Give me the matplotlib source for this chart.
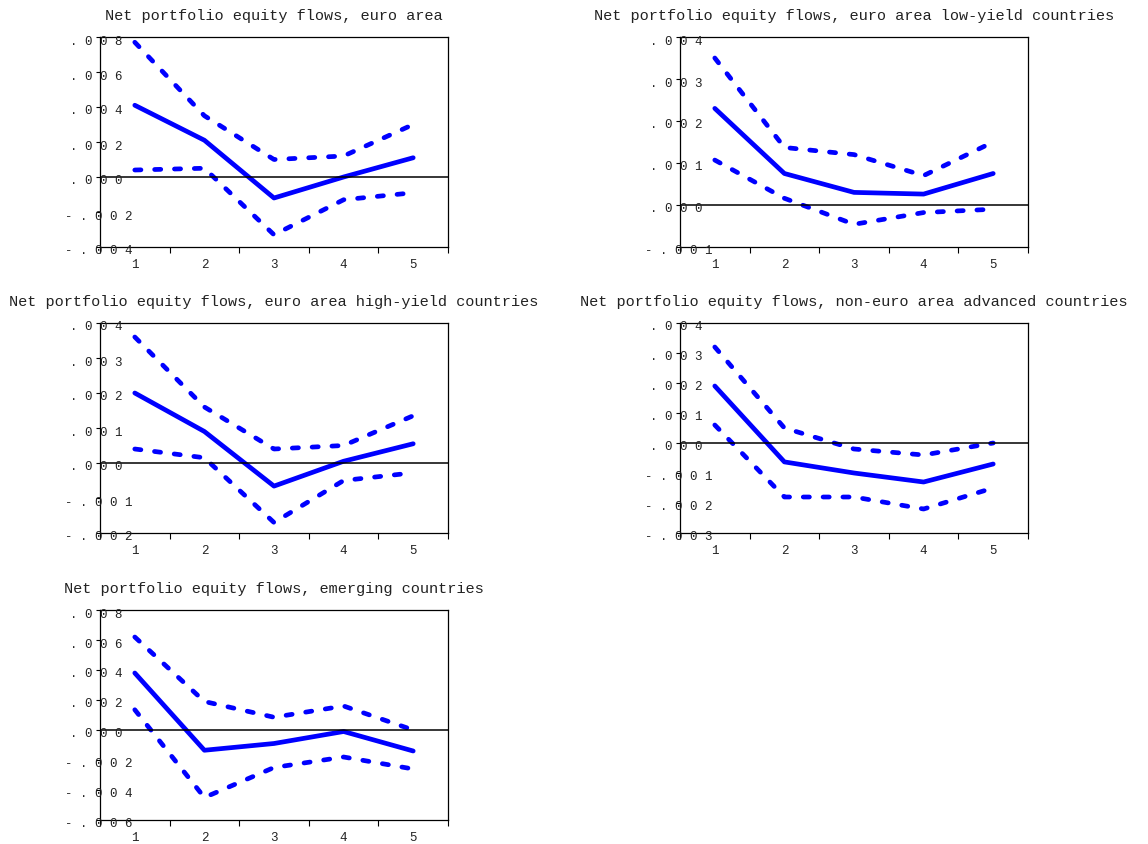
import matplotlib
matplotlib.use('Agg')
import matplotlib.pyplot as plt
import matplotlib.transforms as mtransforms

# horizon steps
steps = [1, 2, 3, 4, 5]

titles = [
    "Net portfolio equity flows, euro area",
    "Net portfolio equity flows, euro area low-yield countries",
    "Net portfolio equity flows, euro area high-yield countries",
    "Net portfolio equity flows, non-euro area advanced countries",
    "Net portfolio equity flows, emerging countries",
]

# euro area
ea_mid = [0.0041, 0.0021, -0.0012, 0.0000, 0.0011]
ea_up = [0.0077, 0.0035, 0.0010, 0.0012, 0.0030]
ea_lo = [0.0004, 0.0005, -0.0033, -0.0013, -0.0009]
ea_ticks = [-0.004, -0.002, 0.0, 0.002, 0.004, 0.006, 0.008]
ea_labels = ["- . 0 0 4", "- . 0 0 2", ". 0 0 0", ". 0 0 2", ". 0 0 4", ". 0 0 6", ". 0 0 8"]

# euro area low-yield
ly_mid = [0.0023, 0.00075, 0.0003, 0.00026, 0.00075]
ly_up = [0.0035, 0.00137, 0.0012, 0.0007, 0.0015]
ly_lo = [0.00107, 0.00016, -0.00046, -0.00018, -0.0001]
ly_ticks = [-0.001, 0.0, 0.001, 0.002, 0.003, 0.004]
ly_labels = ["- . 0 0 1", ". 0 0 0", ". 0 0 1", ". 0 0 2", ". 0 0 3", ". 0 0 4"]

# euro area high-yield
hy_mid = [0.0020, 0.0009, -0.00066, 0.00005, 0.00055]
hy_up = [0.0036, 0.0016, 0.0004, 0.0005, 0.00135]
hy_lo = [0.0004, 0.00015, -0.0017, -0.0005, -0.00028]
hy_ticks = [-0.002, -0.001, 0.0, 0.001, 0.002, 0.003, 0.004]
hy_labels = ["- . 0 0 2", "- . 0 0 1", ". 0 0 0", ". 0 0 1", ". 0 0 2", ". 0 0 3", ". 0 0 4"]

# non-euro advanced
ad_mid = [0.0019, -0.00063, -0.0010, -0.0013, -0.0007]
ad_up = [0.0032, 0.0005, -0.0002, -0.0004, 0.0000]
ad_lo = [0.0006, -0.0018, -0.0018, -0.0022, -0.0015]
ad_ticks = [-0.003, -0.002, -0.001, 0.0, 0.001, 0.002, 0.003, 0.004]
ad_labels = ["- . 0 0 3", "- . 0 0 2", "- . 0 0 1", ". 0 0 0", ". 0 0 1", ". 0 0 2", ". 0 0 3", ". 0 0 4"]

# emerging
em_mid = [0.0038, -0.00135, -0.0009, -0.0001, -0.0014]
em_up = [0.0062, 0.0019, 0.00085, 0.0016, 0.0000]
em_lo = [0.00135, -0.0045, -0.0025, -0.0018, -0.0026]
em_ticks = [-0.006, -0.004, -0.002, 0.0, 0.002, 0.004, 0.006, 0.008]
em_labels = ["- . 0 0 6", "- . 0 0 4", "- . 0 0 2", ". 0 0 0", ". 0 0 2", ". 0 0 4", ". 0 0 6", ". 0 0 8"]

panels = [
    (ea_mid, ea_up, ea_lo, ea_ticks, ea_labels),
    (ly_mid, ly_up, ly_lo, ly_ticks, ly_labels),
    (hy_mid, hy_up, hy_lo, hy_ticks, hy_labels),
    (ad_mid, ad_up, ad_lo, ad_ticks, ad_labels),
    (em_mid, em_up, em_lo, em_ticks, em_labels),
]

# top-left corners of each plot box in pixels
corners = [(100, 38), (680, 38), (100, 324), (680, 324), (100, 611)]
W, H = 1148, 845
bw, bh = 348, 210

font = 'Liberation Mono'
txtcol = '#222222'
dash = (0, (1.3, 2.9))

fig = plt.figure(figsize=(W / 100, H / 100), dpi=100)

for i, (mid, up, lo, ticks, labels) in enumerate(panels):
    x0, y0 = corners[i]
    ax = fig.add_axes([x0 / W, 1 - (y0 + bh) / H, bw / W, bh / H])

    ax.plot(steps, up, color='blue', lw=3.4, linestyle=dash, dash_capstyle='round')
    ax.plot(steps, lo, color='blue', lw=3.4, linestyle=dash, dash_capstyle='round')
    ax.plot(steps, mid, color='blue', lw=3.4, solid_capstyle='round')
    ax.axhline(0, color='black', lw=1.1)

    ax.set_xlim(0.5, 5.5)
    ax.set_ylim(ticks[0], ticks[-1])

    # ticks between steps, labels at steps
    ax.set_xticks([0.5, 1.5, 2.5, 3.5, 4.5, 5.5])
    ax.set_xticklabels([])
    ax.set_xticks(steps, minor=True)
    ax.set_xticklabels([str(s) for s in steps], minor=True, fontsize=9, family=font, color=txtcol)
    ax.tick_params(axis='x', which='major', direction='out', length=4, width=0.8)
    ax.tick_params(axis='x', which='minor', length=0, pad=8)

    ax.set_yticks(ticks)
    ax.set_yticklabels([])
    ax.tick_params(axis='y', direction='out', length=3, width=0.8)

    # the odd overlapping y labels of the original
    for t, lab in zip(ticks, labels):
        dx = -35 if lab.startswith('-') else -30
        tr = mtransforms.offset_copy(ax.get_yaxis_transform(), fig=fig, x=dx, y=-3.5, units='dots')
        ax.text(0, t, lab, transform=tr, ha='left', va='center', fontsize=9,
                family=font, color=txtcol, clip_on=False)

    for s in ax.spines.values():
        s.set_linewidth(0.9)

    ax.annotate(titles[i], (0.5, 1), xycoords='axes fraction', xytext=(0, 15.5),
                textcoords='offset points', ha='center', va='center',
                fontsize=11, family=font, color=txtcol)

fig.savefig('out.png', dpi=100)
